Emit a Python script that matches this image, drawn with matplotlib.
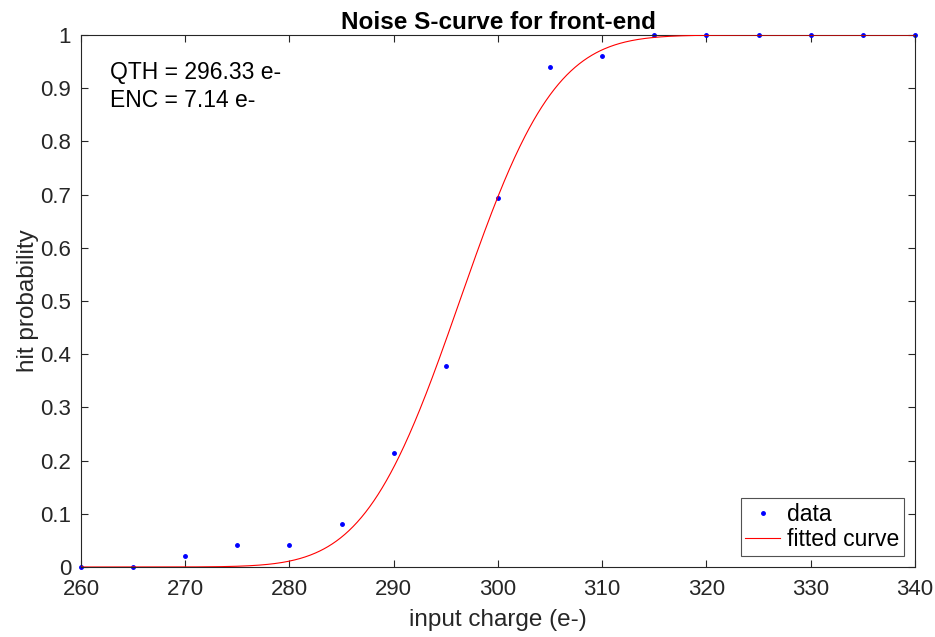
import math
import numpy as np
import matplotlib
matplotlib.use("Agg")
import matplotlib.pyplot as plt

plt.rcParams['font.family'] = ['Liberation Sans', 'DejaVu Sans']

charge = [260, 265, 270, 275, 280, 285, 290, 295, 300, 305, 310, 315, 320, 325, 330, 335, 340]
hit_prob = [0.0, 0.0, 0.021, 0.041, 0.041, 0.081, 0.215, 0.377, 0.694, 0.939, 0.960,
            1.0, 1.0, 1.0, 1.0, 1.0, 1.0]
qth = 296.33
enc = 7.14

xfit = np.linspace(260, 340, 801)
yfit = np.array([0.5 * (1 + math.erf((x - qth) / (math.sqrt(2) * enc))) for x in xfit])

fig = plt.figure(figsize=(9.35, 6.37), dpi=100)
ax = fig.add_axes([0.0866, 0.1099, 0.892, 0.8351])

ax.plot(charge, hit_prob, '.', color='blue', markersize=5, label='data', zorder=2, clip_on=False)
ax.plot(xfit, yfit, '-', color='red', linewidth=0.8, label='fitted curve', zorder=3)

ax.set_xlim(260, 340)
ax.set_ylim(0, 1)
ax.set_xticks(np.arange(260, 341, 10))
ax.set_yticks(np.arange(0, 1.01, 0.1))
ax.set_yticklabels(['0', '0.1', '0.2', '0.3', '0.4', '0.5', '0.6', '0.7', '0.8', '0.9', '1'])

edge = '#262626'
for s in ax.spines.values():
    s.set_color(edge)
    s.set_linewidth(0.8)
ax.tick_params(direction='in', top=True, right=True, length=5, width=0.8,
               colors=edge, labelsize=16, labelcolor='#262626')
ax.tick_params(axis='x', pad=9)
ax.tick_params(axis='y', pad=7)

ax.set_xlabel('input charge (e-)', fontsize=17.5, color='#262626', labelpad=6)
ax.set_ylabel('hit probability', fontsize=17.5, color='#262626', labelpad=1)
ax.set_title('Noise S-curve for front-end', fontsize=17.5, fontweight='bold', pad=4)

ax.text(262.8, 0.93, 'QTH = %.2f e-' % qth, fontsize=16.5, va='center', ha='left')
ax.text(262.8, 0.877, 'ENC = %.2f e-' % enc, fontsize=16.5, va='center', ha='left')

leg = ax.legend(loc='lower right', fontsize=16.5, frameon=True, fancybox=False,
                borderaxespad=0.5, handlelength=1.5, handletextpad=0.3,
                labelspacing=0.1, borderpad=0.2)
leg.get_frame().set_edgecolor(edge)
leg.get_frame().set_linewidth(0.8)

fig.savefig('out.png', dpi=100)
